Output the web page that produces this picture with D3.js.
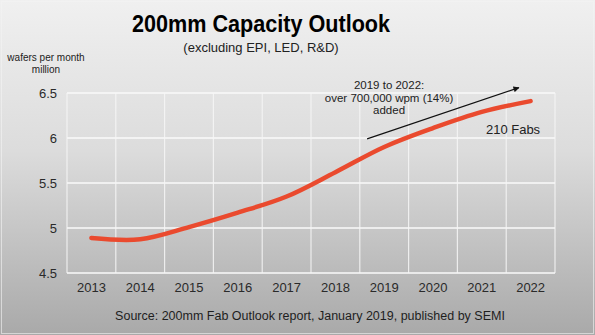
<!DOCTYPE html>
<html>
<head>
<meta charset="utf-8">
<script src="https://cdn.jsdelivr.net/npm/d3@7"></script>
<style>
  html, body { margin: 0; padding: 0; background: #fff; }
  svg { display: block; font-family: "Liberation Sans", Arial, sans-serif; }
</style>
</head>
<body>
<svg id="chart" width="595" height="335"></svg>
<script>
// 200mm fab capacity, million wafers per month
const years = ['2013', '2014', '2015', '2016', '2017', '2018', '2019', '2020', '2021', '2022'];
const capacity = [4.89, 4.875, 5.01, 5.17, 5.35, 5.62, 5.90, 6.11, 6.29, 6.41];
const yTicks = [4.5, 5, 5.5, 6, 6.5];

const svg = d3.select('#chart');
const width = 595, height = 335;
const margin = {top: 93, right: 40, bottom: 62, left: 67};

// slide background
const defs = svg.append('defs');
const grad = defs.append('linearGradient')
    .attr('id', 'bg').attr('x1', 0).attr('y1', 0).attr('x2', 0).attr('y2', 1);
grad.append('stop').attr('offset', '0%').attr('stop-color', '#f0f0f0');
grad.append('stop').attr('offset', '45%').attr('stop-color', '#dcdcdc');
grad.append('stop').attr('offset', '100%').attr('stop-color', '#a9a9a9');

defs.append('marker')
    .attr('id', 'arrowhead')
    .attr('viewBox', '0 0 10 10')
    .attr('refX', 9).attr('refY', 5)
    .attr('markerWidth', 7).attr('markerHeight', 6)
    .attr('markerUnits', 'userSpaceOnUse')
    .attr('orient', 'auto')
    .append('path').attr('d', 'M0,0 L10,5 L0,10 z').attr('fill', '#111');

svg.append('rect').attr('width', width).attr('height', height).attr('fill', 'url(#bg)');
svg.append('rect').attr('x', 1.5).attr('y', 1.5).attr('width', width - 3).attr('height', height - 3)
    .attr('fill', 'none').attr('stroke', '#f4f4f4').attr('stroke-opacity', 0.6);

const x = d3.scaleBand().domain(years).range([margin.left, width - margin.right]);
// continuous position in category units, used for annotations
const xi = d3.scaleLinear().domain([0, years.length]).range([margin.left, width - margin.right]);
const y = d3.scaleLinear().domain([4.5, 6.5]).range([height - margin.bottom, margin.top]);

// gridlines
svg.append('g')
    .selectAll('line')
    .data(yTicks)
    .join('line')
    .attr('x1', margin.left).attr('x2', width - margin.right)
    .attr('y1', d => y(d)).attr('y2', d => y(d))
    .attr('stroke', '#fafafa').attr('stroke-width', 1.6);

svg.append('g')
    .selectAll('line')
    .data(d3.range(years.length + 1))
    .join('line')
    .attr('x1', d => xi(d)).attr('x2', d => xi(d))
    .attr('y1', y(6.5)).attr('y2', y(4.5))
    .attr('stroke', '#f6f6f6').attr('stroke-width', 1.2).attr('stroke-opacity', 0.85);

// axes
const yAxis = svg.append('g')
    .attr('transform', `translate(${margin.left},0)`)
    .call(d3.axisLeft(y).tickValues(yTicks).tickFormat(d3.format('')).tickSize(0).tickPadding(10));
yAxis.select('.domain').remove();
yAxis.selectAll('text').attr('font-size', 13).attr('fill', '#2a2a2a').attr('font-family', 'Liberation Sans, Arial, sans-serif');

const xAxis = svg.append('g')
    .attr('transform', `translate(0,${height - margin.bottom})`)
    .call(d3.axisBottom(x).tickSize(0).tickPadding(10));
xAxis.select('.domain').remove();
xAxis.selectAll('text').attr('font-size', 13).attr('fill', '#2a2a2a').attr('font-family', 'Liberation Sans, Arial, sans-serif');

// capacity line
const line = d3.line()
    .x((d, i) => x(years[i]) + x.bandwidth() / 2)
    .y(d => y(d))
    .curve(d3.curveCatmullRom.alpha(0.5));

svg.append('path')
    .datum(capacity)
    .attr('d', line)
    .attr('fill', 'none')
    .attr('stroke', '#ea4a2e')
    .attr('stroke-width', 4.5)
    .attr('stroke-linecap', 'round');

// titles
svg.append('text')
    .attr('transform', 'translate(261,32) scale(0.9,1)')
    .attr('text-anchor', 'middle')
    .attr('font-size', 24).attr('font-weight', 'bold').attr('fill', '#000')
    .text('200mm Capacity Outlook');

svg.append('text')
    .attr('x', 261).attr('y', 52)
    .attr('text-anchor', 'middle')
    .attr('font-size', 13).attr('fill', '#222')
    .text('(excluding EPI, LED, R&D)');

const unit = svg.append('text')
    .attr('text-anchor', 'middle')
    .attr('font-size', 10).attr('fill', '#222');
unit.append('tspan').attr('x', 46).attr('y', 61).text('wafers per month');
unit.append('tspan').attr('x', 46).attr('y', 73).text('million');

// growth annotation
svg.append('line')
    .attr('x1', xi(6.15)).attr('y1', y(5.99))
    .attr('x2', xi(9.26)).attr('y2', y(6.56))
    .attr('stroke', '#111').attr('stroke-width', 1.2)
    .attr('marker-end', 'url(#arrowhead)');

const note = svg.append('text')
    .attr('text-anchor', 'middle')
    .attr('font-size', 11.5).attr('fill', '#222');
['2019 to 2022:', 'over 700,000 wpm (14%)', 'added'].forEach((t, i) => {
    note.append('tspan').attr('x', xi(6.6)).attr('y', 89 + i * 12.5).text(t);
});

svg.append('text')
    .attr('x', xi(9.14)).attr('y', y(6.05))
    .attr('text-anchor', 'middle')
    .attr('font-size', 13).attr('fill', '#222')
    .text('210 Fabs');

svg.append('text')
    .attr('x', 310).attr('y', 320)
    .attr('text-anchor', 'middle')
    .attr('font-size', 12.5).attr('fill', '#1e1e1e')
    .text('Source: 200mm Fab Outlook report, January 2019, published by SEMI');
</script>
</body>
</html>
